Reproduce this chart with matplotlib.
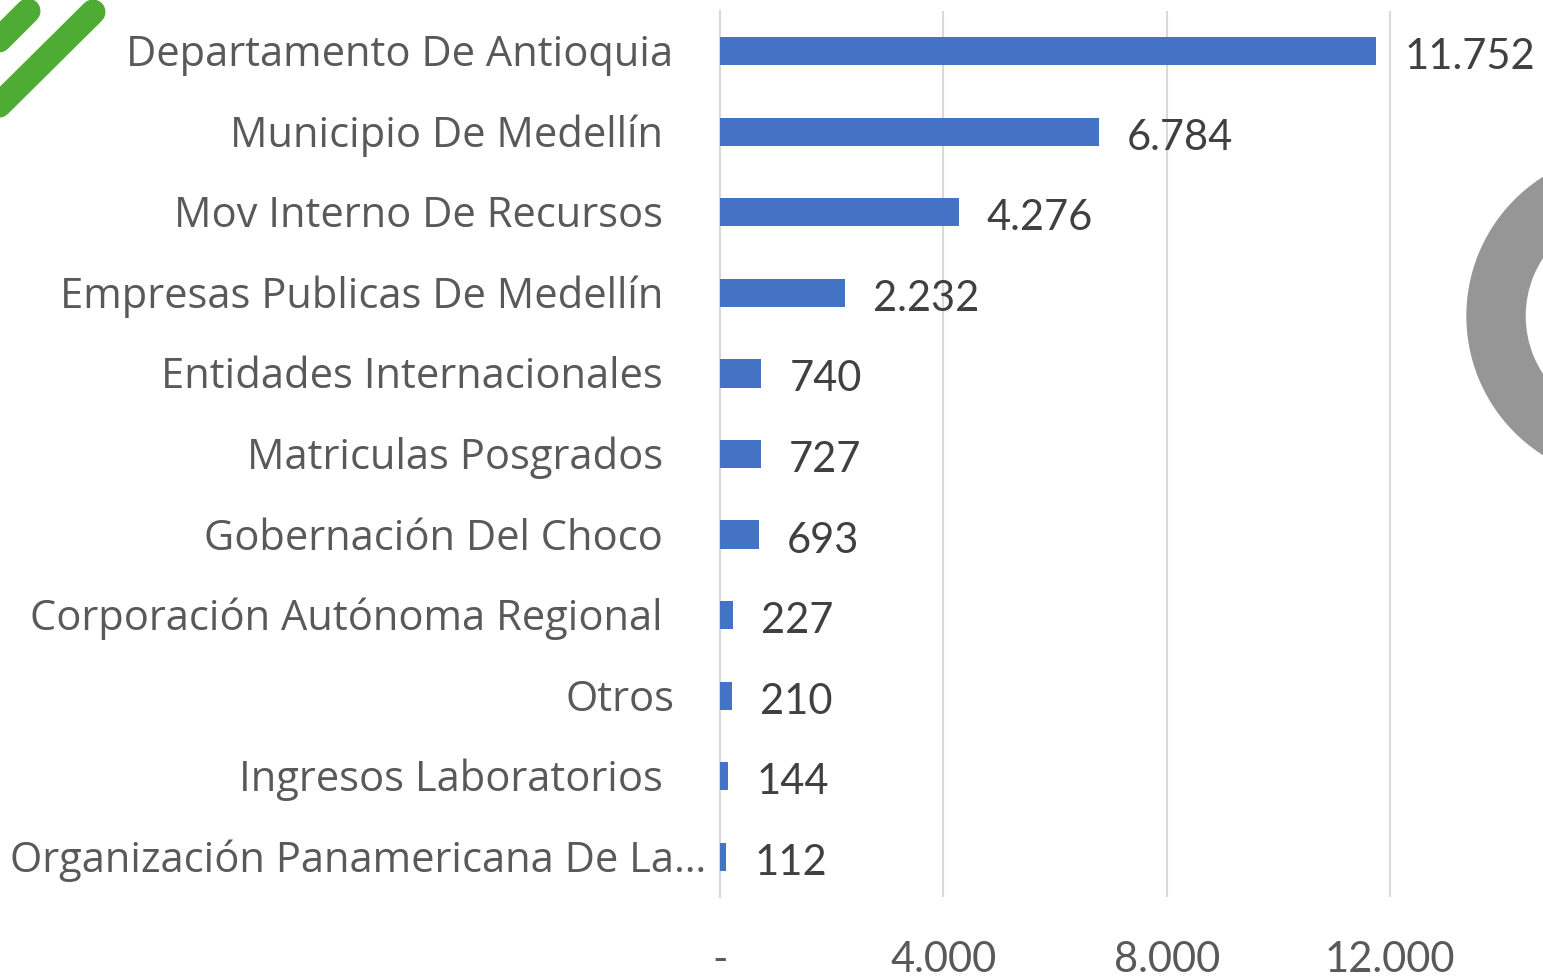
import matplotlib
matplotlib.use("Agg")
import matplotlib.pyplot as plt
from matplotlib.patches import Wedge

# data
categories = ["Departamento De Antioquia", "Municipio De Medellín", "Mov Interno De Recursos",
              "Empresas Publicas De Medellín", "Entidades Internacionales", "Matriculas Posgrados",
              "Gobernación Del Choco", "Corporación Autónoma Regional", "Otros",
              "Ingresos Laboratorios", "Organización Panamericana De La…"]
values = [11752, 6784, 4276, 2232, 740, 727, 693, 227, 210, 144, 112]
tick_values = [0, 4000, 8000, 12000]
tick_labels = ["-", "4.000", "8.000", "12.000"]

W, H = 1543, 978
fig = plt.figure(figsize=(W / 100, H / 100), dpi=100)

# background decorations (pixel coordinates)
bg = fig.add_axes([0, 0, 1, 1])
bg.set_xlim(0, W)
bg.set_ylim(H, 0)
bg.axis("off")
bg.plot([28, -20], [12, 60], color="#4EAC34", lw=18, solid_capstyle="round")
bg.plot([93, -20], [13, 125], color="#4EAC34", lw=18, solid_capstyle="round")
bg.add_patch(Wedge((1631, 317), 164, 0, 360, width=58, color="#969696"))

# bar chart
left = 720 / W
bottom = 1 - 898 / H
top = 1 - 12 / H
ax = fig.add_axes([left, bottom, 1 - left, top - bottom])
ax.patch.set_alpha(0)
y = list(range(len(categories)))
ax.barh(y, values, height=0.35, color="#4472C4", zorder=3)
ax.set_xlim(0, 12000 * (W - 720) / 670)
ax.set_ylim(len(categories) - 0.5, -0.5)

for s in ["top", "right", "bottom"]:
    ax.spines[s].set_visible(False)
ax.spines["left"].set_color("#d9d9d9")
ax.spines["left"].set_linewidth(1.5)
ax.set_yticks([])
ax.set_xticks(tick_values)
ax.set_xticklabels(tick_labels, fontsize=30, color="#595959", family="Lato")
ax.tick_params(axis="x", length=0, pad=31)
ax.grid(axis="x", color="#d9d9d9", lw=1.5, zorder=0)

# category labels
nudge = {0: 47, 8: 45, 10: 14}
for i, c in enumerate(categories):
    ax.annotate(c, xy=(0, i), xycoords=("axes fraction", "data"),
                xytext=(-nudge.get(i, 57), -3), textcoords="offset pixels",
                ha="right", va="center", fontsize=30, color="#595959", family="Open Sans")

# value labels
for i, v in enumerate(values):
    lab = f"{v:,}".replace(",", ".")
    ax.annotate(lab, xy=(v, i), xytext=(28, -5), textcoords="offset pixels",
                ha="left", va="center", fontsize=30, color="#404040", family="Lato")

fig.savefig("out.png", dpi=100)
